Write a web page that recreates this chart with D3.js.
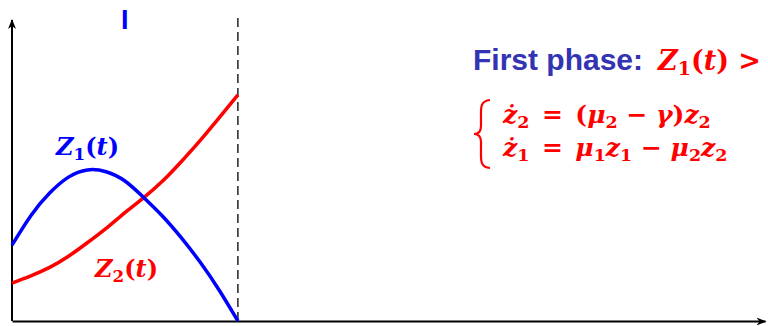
<!DOCTYPE html>
<html>
<head>
<meta charset="utf-8">
<script src="https://cdn.jsdelivr.net/npm/d3@7"></script>
<style>
  body { margin: 0; background: #fff; }
  svg { display: block; }
  .math { font-family: "DejaVu Serif", serif; font-weight: bold; font-style: italic; }
</style>
</head>
<body>
<svg id="chart" width="768" height="326"></svg>
<script>
// time samples (phase I runs from t=0 to the dashed line at t=3)
const times = [0, 0.25, 0.5, 0.75, 1, 1.25, 1.5, 1.75, 2, 2.25, 2.5, 2.75, 3];
const z1Values = [2.52, 3.5, 4.25, 4.78, 5.02, 4.96, 4.65, 4.1, 3.48, 2.76, 1.95, 1.03, 0];
const z2Values = [1.26, 1.5, 1.78, 2.15, 2.6, 3.08, 3.6, 4.1, 4.65, 5.3, 6.0, 6.75, 7.51];
const phaseEnd = 3;
const phaseLabel = "I";

const svg = d3.select("#chart");

const x = d3.scaleLinear().domain([0, 10]).range([12, 765]);
const y = d3.scaleLinear().domain([0, 10]).range([321, 20]);

// arrow heads
const defs = svg.append("defs");
defs.append("marker")
  .attr("id", "arrow")
  .attr("viewBox", "0 0 10 10")
  .attr("refX", 9).attr("refY", 5)
  .attr("markerWidth", 5).attr("markerHeight", 5)
  .attr("markerUnits", "strokeWidth")
  .attr("orient", "auto")
  .append("path")
  .attr("d", "M0,1 L10,5 L0,9 L3,5 Z")
  .attr("fill", "#000");

// axes, no ticks
const xAxis = svg.append("g")
  .attr("transform", `translate(0,${y(0)})`)
  .call(d3.axisBottom(x).tickValues([]).tickSizeOuter(0));
xAxis.select(".domain").attr("stroke", "#000").attr("stroke-width", 2)
  .attr("marker-end", "url(#arrow)");

const yAxis = svg.append("g")
  .attr("transform", `translate(${x(0)},0)`)
  .call(d3.axisLeft(y).tickValues([]).tickSizeOuter(0));
yAxis.select(".domain").attr("stroke", "#000").attr("stroke-width", 2)
  .attr("d", `M0,${y(0)}V${y(10)}`)
  .attr("marker-end", "url(#arrow)");

// end of phase
svg.append("line")
  .attr("x1", x(phaseEnd)).attr("x2", x(phaseEnd))
  .attr("y1", y(10) - 2).attr("y2", y(0))
  .attr("stroke", "#000")
  .attr("stroke-width", 1.3)
  .attr("stroke-dasharray", "9,5");

svg.append("text")
  .attr("x", 121).attr("y", 29)
  .attr("font-family", "Liberation Sans, Arial, sans-serif")
  .attr("font-weight", "bold")
  .attr("font-size", 27)
  .attr("fill", "#0000ff")
  .text(phaseLabel);

const line = d3.line()
  .x((d) => x(d[0]))
  .y((d) => y(d[1]))
  .curve(d3.curveNatural);

svg.append("path")
  .datum(times.map((t, i) => [t, z2Values[i]]))
  .attr("d", line)
  .attr("fill", "none")
  .attr("stroke", "#ff0000")
  .attr("stroke-width", 3.5);

svg.append("path")
  .datum(times.map((t, i) => [t, z1Values[i]]))
  .attr("d", line)
  .attr("fill", "none")
  .attr("stroke", "#0000ff")
  .attr("stroke-width", 3.5);

// math text helper: parts are [text, isSubscript, upright]
function mathText(g, px, py, parts, color, size) {
  const t = g.append("text")
    .attr("class", "math")
    .attr("x", px).attr("y", py)
    .attr("font-size", size)
    .attr("fill", color)
    .attr("xml:space", "preserve")
    .style("white-space", "pre");
  let shifted = false;
  parts.forEach(([s, sub, upright]) => {
    const sp = t.append("tspan").text(s);
    if (sub) {
      sp.attr("font-size", size * 0.7).attr("dy", shifted ? 0 : size * 0.2);
      shifted = true;
    } else {
      sp.attr("dy", shifted ? -size * 0.2 : 0);
      shifted = false;
    }
    if (upright) sp.attr("font-style", "normal");
  });
  return t;
}

mathText(svg, 56, 155, [["Z"], ["1", true, true], ["(", false, true], ["t"], [")", false, true]], "#0000ff", 24);
mathText(svg, 95, 277, [["Z"], ["2", true, true], ["(", false, true], ["t"], [")", false, true]], "#ff0000", 24);

// right panel
svg.append("text")
  .attr("x", 473).attr("y", 70)
  .attr("font-family", "Liberation Sans, Arial, sans-serif")
  .attr("font-weight", "bold")
  .attr("font-size", 30)
  .attr("fill", "rgb(51,51,179)")
  .text("First phase:");

mathText(svg, 658, 70, [["Z"], ["1", true, true], ["(", false, true], ["t"], [")", false, true], [" >", false, true]], "#ff0000", 27);

// brace
svg.append("path")
  .attr("d", "M490,100 C480,101 481,108 481,116 L481,126 C481,131 479,134 474,134 C479,134 481,137 481,142 L481,152 C481,160 480,167 490,168")
  .attr("fill", "none")
  .attr("stroke", "#ff0000")
  .attr("stroke-width", 2.2);

mathText(svg, 503, 123, [["\u017C"], ["2", true, true], ["\u2002=\u2002(", false, true], ["\u03BC"], ["2", true, true], [" \u2212 ", false, true], ["\u03B3"], [")", false, true], ["z"], ["2", true, true]], "#ff0000", 25);
mathText(svg, 503, 156, [["\u017C"], ["1", true, true], ["\u2002=\u2002", false, true], ["\u03BC"], ["1", true, true], ["z"], ["1", true, true], [" \u2212 ", false, true], ["\u03BC"], ["2", true, true], ["z"], ["2", true, true]], "#ff0000", 25);
</script>
</body>
</html>
